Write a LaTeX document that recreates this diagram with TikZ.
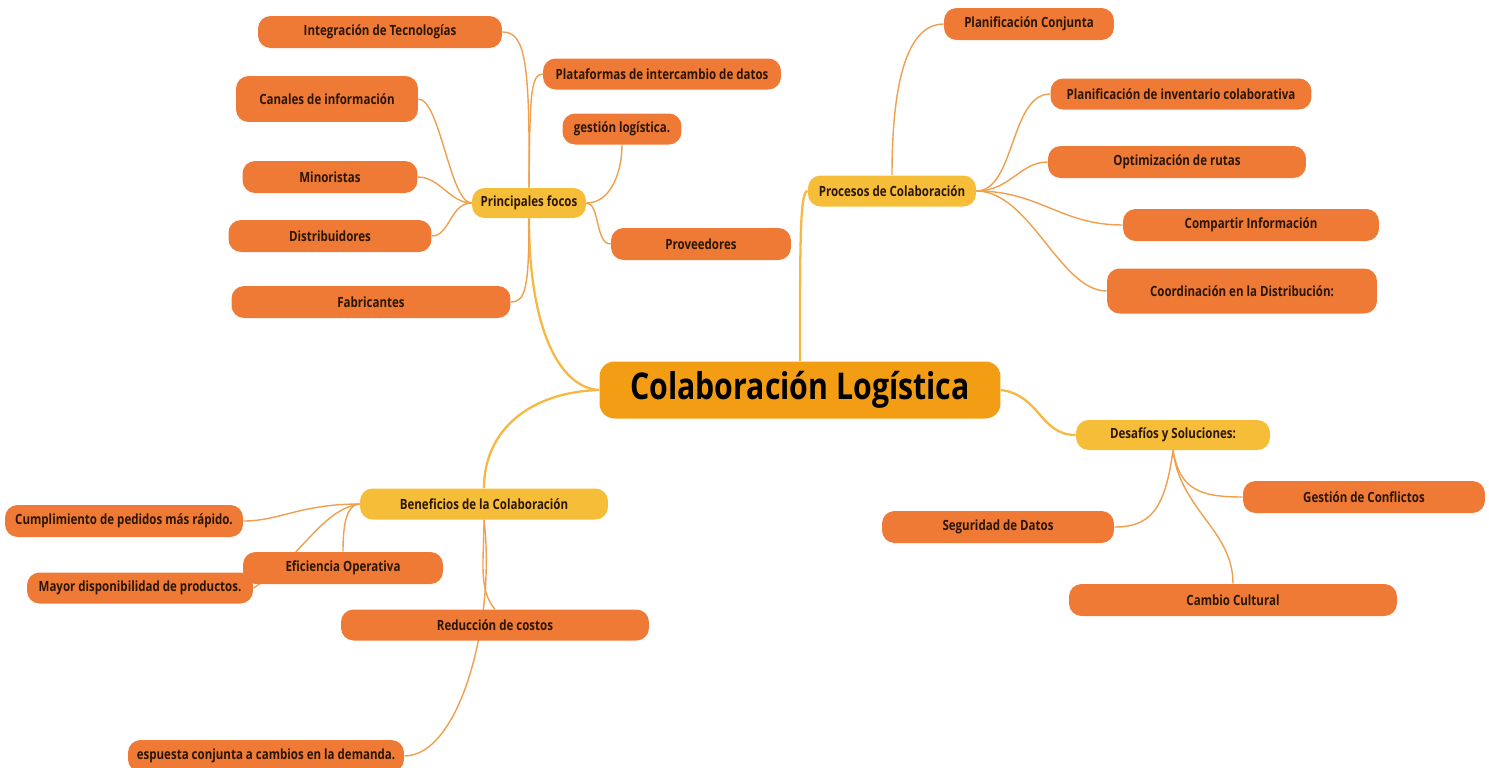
\documentclass[tikz,border=0pt]{standalone}
\usepackage{fontspec}
\setmainfont{Open Sans}[FakeStretch=0.82]
\usepackage{tikz}
\usetikzlibrary{backgrounds}
\definecolor{mainfill}{HTML}{F29D14}
\definecolor{subfill}{HTML}{F6BE38}
\definecolor{leaffill}{HTML}{EF7A36}
\definecolor{inktext}{HTML}{2B1606}
\definecolor{branchline}{HTML}{F4B843}
\definecolor{twigline}{HTML}{EFA04E}
\tikzset{
  box/.style={rounded corners=0.25cm, inner sep=0pt, minimum height=0.64cm,
              text=inktext, font=\bfseries\fontsize{8}{9.6}\selectfont},
  leaf/.style={box, fill=leaffill},
  topic/.style={box, fill=subfill},
  branch/.style={draw=branchline, line width=1.3pt},
  twig/.style={draw=twigline, line width=0.8pt}
}
\begin{document}
\begin{tikzpicture}[x=0.02cm, y=-0.02cm]
  \useasboundingbox (0,0) rectangle (1489,768);

  \node (cl) [box, fill=mainfill, minimum width=8.02cm, minimum height=1.14cm,
              rounded corners=0.3cm, text=black,
              font=\bfseries\fontsize{21}{24}\selectfont] at (800,390) {Colaboración Logística};

  \node (pf) [topic, minimum width=2.28cm, minimum height=0.6cm] at (529,203) {Principales focos};
  \node (pc) [topic, minimum width=3.36cm, minimum height=0.62cm] at (892,191) {Procesos de Colaboración};
  \node (ds) [topic, minimum width=3.88cm, minimum height=0.6cm] at (1173,435) {Desafíos y Soluciones:};
  \node (bn) [topic, minimum width=4.96cm, minimum height=0.62cm] at (484,504) {Beneficios de la Colaboración};

  \node (it) [leaf, minimum width=4.88cm] at (380,32) {Integración de Tecnologías};
  \node (pl) [leaf, minimum width=4.76cm, minimum height=0.62cm] at (662,74) {Plataformas de intercambio de datos};
  \node (ca) [leaf, minimum width=3.64cm, minimum height=0.92cm] at (327,99) {Canales de información};
  \node (ge) [leaf, minimum width=2.38cm, minimum height=0.62cm] at (622,129) {gestión logística.};
  \node (mi) [leaf, minimum width=3.5cm] at (330,177) {Minoristas};
  \node (di) [leaf, minimum width=4.06cm] at (330,236) {Distribuidores};
  \node (pr) [leaf, minimum width=3.6cm] at (701,244) {Proveedores};
  \node (fa) [leaf, minimum width=5.58cm] at (371,302) {Fabricantes};

  \node (pj) [leaf, minimum width=3.4cm] at (1029,24) {Planificación Conjunta};
  \node (pi) [leaf, minimum width=5.22cm, minimum height=0.62cm] at (1181,94) {Planificación de inventario colaborativa};
  \node (op) [leaf, minimum width=5.16cm] at (1177,162) {Optimización de rutas};
  \node (co) [leaf, minimum width=5.12cm] at (1251,225) {Compartir Información};
  \node (cd) [leaf, minimum width=5.4cm, minimum height=0.9cm] at (1242,291) {Coordinación en la Distribución:};

  \node (gc) [leaf, minimum width=4.84cm] at (1364,497) {Gestión de Conflictos};
  \node (sd) [leaf, minimum width=4.64cm] at (998,527) {Seguridad de Datos};
  \node (cc) [leaf, minimum width=6.56cm] at (1233,600) {Cambio Cultural};

  \node (cu) [leaf, minimum width=4.76cm] at (124,521) {Cumplimiento de pedidos más rápido.};
  \node (ef) [leaf, minimum width=4cm] at (343,568) {Eficiencia Operativa};
  \node (ma) [leaf, minimum width=4.52cm, minimum height=0.62cm] at (140,588) {Mayor disponibilidad de productos.};
  \node (rc) [leaf, minimum width=6.16cm, minimum height=0.62cm] at (495,625) {Reducción de costos};
  \node (es) [leaf, minimum width=5.52cm] at (266,756) {espuesta conjunta a cambios en la demanda.};

  \begin{scope}[on background layer]
    \draw [branch] (pf.south) .. controls (529,330) and (560,388) .. (cl.west);
    \draw [branch] (cl.north) .. controls (800,240) and (800,191) .. (pc.west);
    \draw [branch] (cl.east) .. controls (1040,395) and (1040,435) .. (ds.west);
    \draw [branch] (cl.west) .. controls (530,392) and (484,430) .. (bn.north);

    \draw [twig] (pf.north) .. controls (530,60) and (525,32) .. (it.east);
    \draw [twig] (pf.north) .. controls (530,100) and (530,74) .. (pl.west);
    \draw [twig] (pf.west) .. controls (450,203) and (440,99) .. (ca.east);
    \draw [twig] (pf.west) .. controls (450,203) and (440,177) .. (mi.east);
    \draw [twig] (pf.west) .. controls (450,203) and (450,236) .. (di.east);
    \draw [twig] (pf.south) .. controls (529,290) and (525,302) .. (fa.east);
    \draw [twig] (pf.east) .. controls (612,203) and (622,170) .. (ge.south);
    \draw [twig] (pf.east) .. controls (600,203) and (595,244) .. (pr.west);

    \draw [twig] (pc.north) .. controls (892,60) and (915,24) .. (pj.west);
    \draw [twig] (pc.east) .. controls (1015,191) and (1010,94) .. (pi.west);
    \draw [twig] (pc.east) .. controls (1010,191) and (1020,162) .. (op.west);
    \draw [twig] (pc.east) .. controls (1040,191) and (1060,225) .. (co.west);
    \draw [twig] (pc.east) .. controls (1030,191) and (1060,291) .. (cd.west);

    \draw [twig] (ds.south) .. controls (1180,490) and (1200,497) .. (gc.west);
    \draw [twig] (ds.south) .. controls (1165,510) and (1150,527) .. (sd.east);
    \draw [twig] (ds.south) .. controls (1180,510) and (1233,530) .. (cc.north);

    \draw [twig] (bn.west) .. controls (300,504) and (280,521) .. (cu.east);
    \draw [twig] (bn.west) .. controls (345,504) and (343,530) .. (ef.north);
    \draw [twig] (bn.west) .. controls (320,510) and (300,560) .. (ma.east);
    \draw [twig] (bn.south) .. controls (484,560) and (478,590) .. (rc.north);
    \draw [twig] (bn.south) .. controls (496,620) and (460,756) .. (es.east);
  \end{scope}
\end{tikzpicture}
\end{document}
